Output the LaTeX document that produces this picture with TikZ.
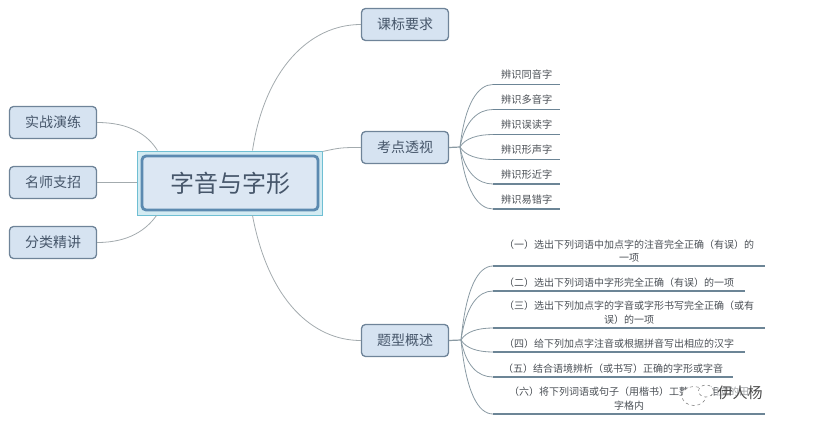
\documentclass[tikz,border=0pt]{standalone}
\usepackage{fontspec}
\setmainfont{Noto Sans CJK SC}
\usetikzlibrary{calc,shapes.geometric}
\definecolor{inkc}{HTML}{46566A}
\definecolor{leafink}{HTML}{4A4F55}
\definecolor{boxfill}{HTML}{D6E3F1}
\definecolor{boxline}{HTML}{6F8499}
\definecolor{linkc}{HTML}{A3ABAE}
\definecolor{forkc}{HTML}{8A9AA3}
\definecolor{rulec}{HTML}{6C8596}
\definecolor{haloline}{HTML}{6FBFD3}
\definecolor{halofill}{HTML}{D3EBF2}
\definecolor{rootline}{HTML}{5C8AB0}
\tikzset{
  topicbox/.style={draw=boxline,fill=boxfill,line width=1.3pt,rounded corners=4pt,minimum width=87pt,minimum height=32pt,inner sep=0pt,text=inkc,font=\fontsize{14}{16}\selectfont},
  shortleaf/.style={anchor=south west,inner sep=0pt,inner ysep=4.5pt,minimum width=67pt,align=center,text=leafink,font=\fontsize{10.2}{14}\selectfont},
  longleaf/.style={anchor=south west,inner sep=0pt,inner ysep=3.5pt,align=center,text=leafink,font=\fontsize{10}{13.5}\selectfont},
  leafrule/.style={draw=rulec,line width=1.8pt},
  link/.style={draw=linkc,line width=0.8pt},
  forklink/.style={draw=forkc,line width=0.8pt},
  stub/.style={draw=forkc,line width=1.2pt},
  bubble/.style={ellipse,draw=black!55,dashed,line width=0.5pt,fill=white,inner sep=0pt},
}
\newcommand{\forkto}[2]{%
  \draw[forklink] (#1) .. controls ($(#1)!0.7!(#1 |- #2.south west)+(5,0)$) and ($(#2.south west)+(-15,0)$) .. (#2.south west);
  \draw[leafrule] (#2.south west) -- (#2.south east);
}
\begin{document}
\begin{tikzpicture}[x=1pt,y=-1pt]
\useasboundingbox (0,0) rectangle (820,428);
% centre
\node[draw=haloline,fill=halofill,line width=1pt,minimum width=185pt,minimum height=64pt,inner sep=0pt] (halo) at (229.5,183) {};
\node[draw=rootline,fill=boxfill!85!white,line width=2.8pt,rounded corners=4pt,minimum width=176pt,minimum height=54pt,inner sep=0pt,text=inkc,font=\fontsize{24}{28}\selectfont] (root) at (230,183) {字音与字形};
% left
\node[topicbox] (a1) at (53,122.5) {实战演练};
\node[topicbox] (a2) at (53,182.5) {名师支招};
\node[topicbox] (a3) at (53,242.5) {分类精讲};
% right
\node[topicbox] (b1) at (405,24.5) {课标要求};
\node[topicbox] (b2) at (405,147.5) {考点透视};
\node[topicbox] (b3) at (405,340.5) {题型概述};
% root links
\coordinate (rt) at ($(halo.north west)+(116,0)$);
\coordinate (rb) at ($(halo.south west)+(116,0)$);
\coordinate (lt) at ($(halo.north west)+(21,0)$);
\coordinate (lb) at ($(halo.south west)+(20,0)$);
\coordinate (rr) at ($(halo.north east)+(0,1)$);
\draw[link] (rt) .. controls +(12,-80) and ($(b1.west)+(-52,0)$) .. (b1.west);
\draw[link] (rr) .. controls +(18,-4) and ($(b2.west)+(-18,0)$) .. (b2.west);
\draw[link] (rb) .. controls +(16,85) and ($(b3.west)+(-48,0)$) .. (b3.west);
\draw[link] (a1.east) .. controls +(32,0) and ($(lt)+(-10,-16)$) .. (lt);
\draw[link] (a2.east) -- (halo.west |- a2.east);
\draw[link] (a3.east) .. controls +(32,0) and ($(lb)+(-10,14)$) .. (lb);
% fork 1
\coordinate (f1) at (460,147);
\draw[stub] (b2.east) -- (f1);
\node[shortleaf] (c1) at (493,84.5) {辨识同音字};
\node[shortleaf] (c2) at (493,109.5) {辨识多音字};
\node[shortleaf] (c3) at (493,134.5) {辨识误读字};
\node[shortleaf] (c4) at (493,159.5) {辨识形声字};
\node[shortleaf] (c5) at (493,184) {辨识形近字};
\node[shortleaf] (c6) at (493,209) {辨识易错字};
\foreach \n in {c1,c2,c3,c4,c5,c6}{\forkto{f1}{\n}}
% fork 2
\coordinate (f2) at (461,340);
\draw[stub] (b3.east) -- (f2);
\node[longleaf,minimum width=272pt] (d1) at (493,266) {（一）选出下列词语中加点字的注音完全正确（有误）的\\一项};
\node[longleaf,minimum width=252pt] (d2) at (493,291) {（二）选出下列词语中字形完全正确（有误）的一项};
\node[longleaf,minimum width=272pt] (d3) at (493,328) {（三）选出下列加点字的字音或字形书写完全正确（或有\\误）的一项};
\node[longleaf,minimum width=252pt] (d4) at (493,352) {（四）给下列加点字注音或根据拼音写出相应的汉字};
\node[longleaf,minimum width=240pt] (d5) at (493,377) {（五）结合语境辨析（或书写）正确的字形或字音};
\node[longleaf,minimum width=272pt] (d6) at (493,414) {（六）将下列词语或句子（用楷书）工整写在相应的田\\字格内};
\foreach \n in {d1,d2,d3,d4,d5,d6}{\forkto{f2}{\n}}
% watermark
\node[bubble,minimum width=24pt,minimum height=19pt] (wm1) at (694,396) {};
\node[bubble,minimum width=15pt,minimum height=12pt] (wm2) at (706,391) {};
\node[text=black!70,fill=white,fill opacity=.45,text opacity=1,inner sep=1pt,font=\fontsize{15}{16}\selectfont] (wm3) at (740,393) {伊人杨};
\end{tikzpicture}
\end{document}
